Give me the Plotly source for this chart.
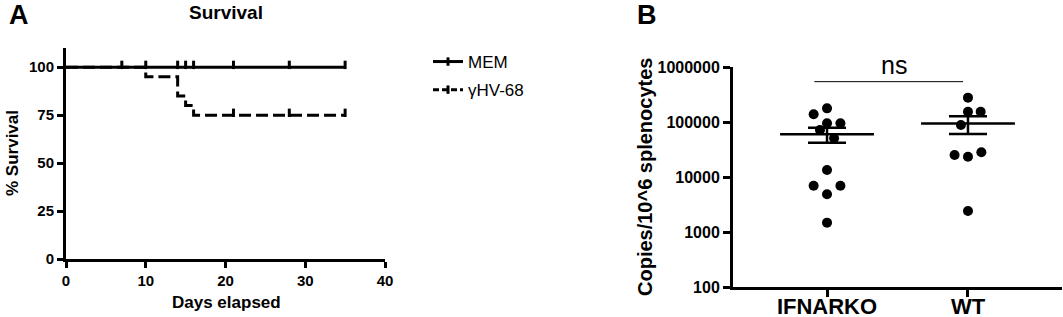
import numpy as np
import plotly.graph_objects as go

# ---------------- Panel A data (Kaplan-Meier) ----------------
mem_times = [0, 35]
mem_surv = [100, 100]
mem_censor_t = [7, 10, 14, 15, 16, 21, 28, 35]

hv_times = [0, 10, 14, 15, 16, 35]
hv_surv = [100, 95, 85, 80, 75, 75]
hv_censor_t = [21, 28, 35]

series_names = ["MEM", "γHV-68"]

# ---------------- Panel B data ----------------
groups = ["IFNARKO", "WT"]
ifnarko_vals = [177000, 138000, 94600, 94600, 71600, 50500, 13400, 6950, 6950, 4840, 1480]
ifnarko_jit = [0, -0.095, 0, 0.095, -0.05, 0.05, 0, -0.095, 0.095, 0, 0]
wt_vals = [277000, 154000, 154000, 88200, 25100, 23400, 28100, 2410]
wt_jit = [0, 0, 0.09, -0.05, -0.095, 0, 0.095, 0]
y_ticks_b = [100, 1000, 10000, 100000, 1000000]

FONT = "Liberation Sans, Arial, sans-serif"
BLACK = "#000000"

W, H = 1063, 317

def px(x):
    return x / W

def py(y):
    return 1 - y / H

def step_value(times, surv, t):
    idx = 0
    for i, tt in enumerate(times):
        if tt <= t:
            idx = i
    return surv[idx]

fig = go.Figure()

# survival curves
fig.add_trace(go.Scatter(x=mem_times, y=mem_surv, mode="lines", line=dict(color=BLACK, width=3, shape="hv"),
                         showlegend=False, xaxis="x", yaxis="y", hoverinfo="skip"))
fig.add_trace(go.Scatter(x=hv_times, y=hv_surv, mode="lines",
                         line=dict(color=BLACK, width=3, shape="hv", dash="12px,5px"),
                         showlegend=False, xaxis="x", yaxis="y", hoverinfo="skip"))
# censor marks
fig.add_trace(go.Scatter(x=mem_censor_t, y=[step_value(mem_times, mem_surv, t) + 1.2 for t in mem_censor_t],
                         mode="markers", marker=dict(symbol="line-ns", size=6, line=dict(color=BLACK, width=3)),
                         showlegend=False, xaxis="x", yaxis="y", hoverinfo="skip", cliponaxis=False))
fig.add_trace(go.Scatter(x=hv_censor_t, y=[step_value(hv_times, hv_surv, t) + 1.2 for t in hv_censor_t],
                         mode="markers", marker=dict(symbol="line-ns", size=6, line=dict(color=BLACK, width=3)),
                         showlegend=False, xaxis="x", yaxis="y", hoverinfo="skip", cliponaxis=False))
# legend entries
for name, dash, grp in [(series_names[0], "solid", "a"), (series_names[1], "6px,3px", "b")]:
    fig.add_trace(go.Scatter(x=[None], y=[None], mode="lines+markers", name=name, legendgroup=grp,
                             line=dict(color=BLACK, width=3, dash=dash),
                             marker=dict(symbol="line-ns", size=6, line=dict(color=BLACK, width=3)),
                             xaxis="x", yaxis="y"))

# ---------------- Panel B ----------------
for gi, (vals, jit) in enumerate([(ifnarko_vals, ifnarko_jit), (wt_vals, wt_jit)]):
    v = np.array(vals, dtype=float)
    mean = v.mean()
    sem = v.std(ddof=1) / np.sqrt(len(v))
    fig.add_trace(go.Scatter(x=[gi + j for j in jit], y=vals, mode="markers",
                             marker=dict(color=BLACK, size=10, symbol="circle"),
                             showlegend=False, xaxis="x2", yaxis="y2", hoverinfo="skip"))
    # mean line
    fig.add_trace(go.Scatter(x=[gi - 0.333, gi + 0.333], y=[mean, mean], mode="lines",
                             line=dict(color=BLACK, width=2.5), showlegend=False,
                             xaxis="x2", yaxis="y2", hoverinfo="skip"))
    # SEM error bar
    fig.add_trace(go.Scatter(x=[gi], y=[mean], mode="markers", marker=dict(size=0.1, color=BLACK),
                             error_y=dict(type="data", array=[sem], symmetric=True, color=BLACK,
                                          thickness=2.5, width=19),
                             showlegend=False, xaxis="x2", yaxis="y2", hoverinfo="skip"))

# significance bracket
fig.add_trace(go.Scatter(x=[0 - 0.09, 1 - 0.035], y=[541000, 541000], mode="lines",
                         line=dict(color=BLACK, width=1), showlegend=False,
                         xaxis="x2", yaxis="y2", hoverinfo="skip", cliponaxis=False))

axis_common = dict(showline=True, linecolor=BLACK, linewidth=3, ticks="outside", tickwidth=3,
                   tickcolor=BLACK, showgrid=False, zeroline=False, mirror=False, automargin=False)

fig.update_layout(
    width=W, height=H,
    margin=dict(l=0, r=0, t=0, b=0, autoexpand=False),
    paper_bgcolor="white", plot_bgcolor="white",
    font=dict(family=FONT, color=BLACK),
    xaxis=dict(domain=[px(66), px(385)], range=[0, 40], tickvals=[0, 10, 20, 30, 40], ticklen=6,
               tickfont=dict(size=15, family=FONT, weight="bold"), anchor="y", **axis_common),
    yaxis=dict(domain=[py(259), py(48)], range=[0, 110], tickvals=[0, 25, 50, 75, 100], ticklen=6,
               tickfont=dict(size=15, family=FONT, weight="bold"), anchor="x", **axis_common),
    xaxis2=dict(domain=[px(733), px(1062)], range=[-0.667, 1.667], tickvals=[0, 1], ticktext=groups,
                ticklen=7, ticklabelstandoff=-9,
                tickfont=dict(size=22, family=FONT, weight="bold"), anchor="y2", **axis_common),
    yaxis2=dict(domain=[py(287), py(67)], type="log", range=[2, 6], tickvals=y_ticks_b,
                ticktext=[str(t) for t in y_ticks_b], ticklen=7,
                tickfont=dict(size=16, family=FONT, weight="bold"), anchor="x2", **axis_common),
    legend=dict(x=px(428), y=py(44), xanchor="left", yanchor="top", itemwidth=30,
                font=dict(size=17, family=FONT, color=BLACK), tracegroupgap=3,
                traceorder="grouped", bgcolor="rgba(0,0,0,0)"),
    showlegend=True,
)

ann = [
    dict(text="<b>A</b>", x=px(19), y=py(15), size=27),
    dict(text="<b>B</b>", x=px(647), y=py(15), size=27),
    dict(text="<b>Survival</b>", x=px(226), y=py(13), size=19),
    dict(text="<b>Days elapsed</b>", x=px(226), y=py(302), size=17),
]
annotations = [dict(text=a["text"], x=a["x"], y=a["y"], xref="paper", yref="paper", showarrow=False,
                    xanchor="center", yanchor="middle", font=dict(size=a["size"], family=FONT, color=BLACK))
               for a in ann]
annotations.append(dict(text="<b>% Survival</b>", x=px(12), y=py(153), xref="paper", yref="paper",
                        showarrow=False, textangle=-90, xanchor="center", yanchor="middle",
                        font=dict(size=17, family=FONT, color=BLACK)))
annotations.append(dict(text="<b>Copies/10^6 splenocytes</b>", x=px(645), y=py(177), xref="paper",
                        yref="paper", showarrow=False, textangle=-90, xanchor="center", yanchor="middle",
                        font=dict(size=20, family=FONT, color=BLACK)))
annotations.append(dict(text="ns", x=0.475, y=5.74, xref="x2", yref="y2", showarrow=False,
                        xanchor="center", yanchor="bottom", font=dict(size=25, family=FONT, color=BLACK)))
fig.update_layout(annotations=annotations)

fig.write_html("out.html", config={"displayModeBar": False},
               post_script="document.body.style.margin='0px';document.body.style.padding='0px';"
                           "document.documentElement.style.overflow='hidden';")
